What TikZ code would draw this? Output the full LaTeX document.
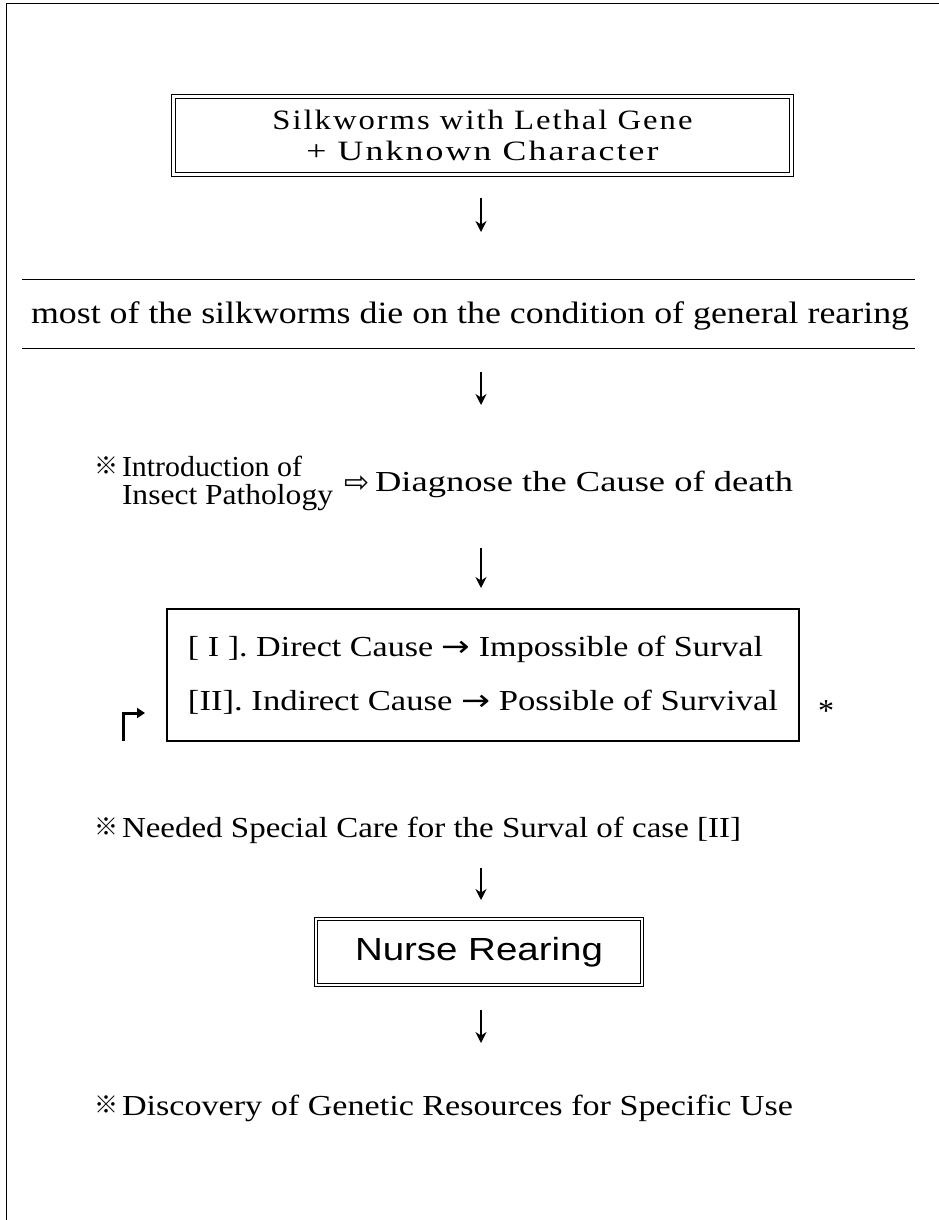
\documentclass[tikz,border=0pt]{standalone}
\usepackage{fontspec}
\usepackage{graphicx}
\setmainfont{Liberation Serif}
\newfontfamily\symf{DejaVu Sans}
\newfontfamily\cjkf{Noto Sans CJK SC}
\newfontfamily\sansf{Liberation Sans}
\newfontfamily\spacedf[LetterSpace=6]{Liberation Serif}
\usetikzlibrary{arrows.meta}
\newcommand\fw[2]{\resizebox{#1pt}{\height}{#2}}
\begin{document}
\begin{tikzpicture}[x=1pt,y=-1pt,
  every node/.style={inner sep=0pt, outer sep=0pt},
  txt/.style={anchor=base west, font=\fontsize{29}{32}\selectfont},
  refmark/.style={anchor=center, font=\fontsize{24}{26}\selectfont\cjkf},
  dbox/.style={draw, double, double distance=2.5pt, line width=0.9pt},
  sbox/.style={draw, line width=1.1pt},
  flow/.style={line width=2.6pt, -{Stealth[length=11pt,width=11pt]}},
  rulel/.style={line width=1pt}]
\useasboundingbox (0,0) rectangle (939,1220);
% frame
\coordinate (fr1) at (939,4);
\coordinate (fr2) at (6,4);
\coordinate (fr3) at (6,1220);
\draw[line width=1pt] (fr1) -- (fr2) -- (fr3);

% top box
\node[dbox, minimum width=618pt, minimum height=78pt, align=center,
  font=\fontsize{28}{31}\spacedf] (b1) at (482.5,135.5)
  {\fw{420}{Silkworms with Lethal Gene}\\\fw{352}{+ Unknown Character}};

% arrow 1
\coordinate (a1s) at (481,198);
\coordinate (a1e) at (481,232);
\draw[flow] (a1s) -- (a1e);

% ruled statement
\coordinate (lA1) at (22,279); \coordinate (lA2) at (915,279);
\coordinate (lB1) at (22,348); \coordinate (lB2) at (915,348);
\draw[rulel] (lA1) -- (lA2);
\draw[rulel] (lB1) -- (lB2);
\node[anchor=base, font=\fontsize{31}{32}\selectfont] (most) at (470,323)
  {\fw{878}{most of the silkworms die on the condition of general rearing}};

% arrow 2
\coordinate (a2s) at (481,372);
\coordinate (a2e) at (481,405);
\draw[flow] (a2s) -- (a2e);

% introduction
\node[refmark] (m1) at (106,466) {※};
\node[txt] (intro1) at (122,476) {\fw{180}{Introduction of}};
\node[txt] (intro2) at (122,504) {\fw{211}{Insect Pathology}};
\node[anchor=center, font=\fontsize{30}{32}\selectfont\symf] (hol) at (357,484) {⇨};
\node[txt] (diag) at (375,491) {\fw{418}{Diagnose the Cause of death}};

% arrow 3
\coordinate (a3s) at (481,548);
\coordinate (a3e) at (481,588);
\draw[flow] (a3s) -- (a3e);

% cause box
\node[sbox, minimum width=632pt, minimum height=132pt, align=left,
  font=\fontsize{29}{54}\selectfont] (b2) at (483,675)
  {\fw{575}{[ I ]. Direct Cause {\symf →} Impossible of Surval}\\
   \fw{590}{[II]. Indirect Cause {\symf →} Possible of Survival}};
\coordinate (h1) at (123,741);
\coordinate (h2) at (123,713);
\coordinate (h3) at (145,713);
\draw[line width=3pt, -{Triangle[length=8pt,width=10pt]}] (h1) -- (h2) -- (h3);
\node[anchor=center, font=\fontsize{32}{32}\selectfont] (ast) at (826,711) {*};

% needed
\node[refmark] (m2) at (106,827) {※};
\node[txt] (need) at (122,837) {\fw{619}{Needed Special Care for the Surval of case [II]}};

% arrow 4
\coordinate (a4s) at (481,868);
\coordinate (a4e) at (481,900);
\draw[flow] (a4s) -- (a4e);

% nurse rearing
\node[dbox, minimum width=326pt, minimum height=66pt,
  font=\fontsize{32}{34}\selectfont\sansf] (b3) at (479,952)
  {\fw{248}{Nurse Rearing}};

% arrow 5
\coordinate (a5s) at (481,1010);
\coordinate (a5e) at (481,1043);
\draw[flow] (a5s) -- (a5e);

% discovery
\node[refmark] (m3) at (106,1105) {※};
\node[txt] (disc) at (122,1115) {\fw{671}{Discovery of Genetic Resources for Specific Use}};
\end{tikzpicture}
\end{document}
